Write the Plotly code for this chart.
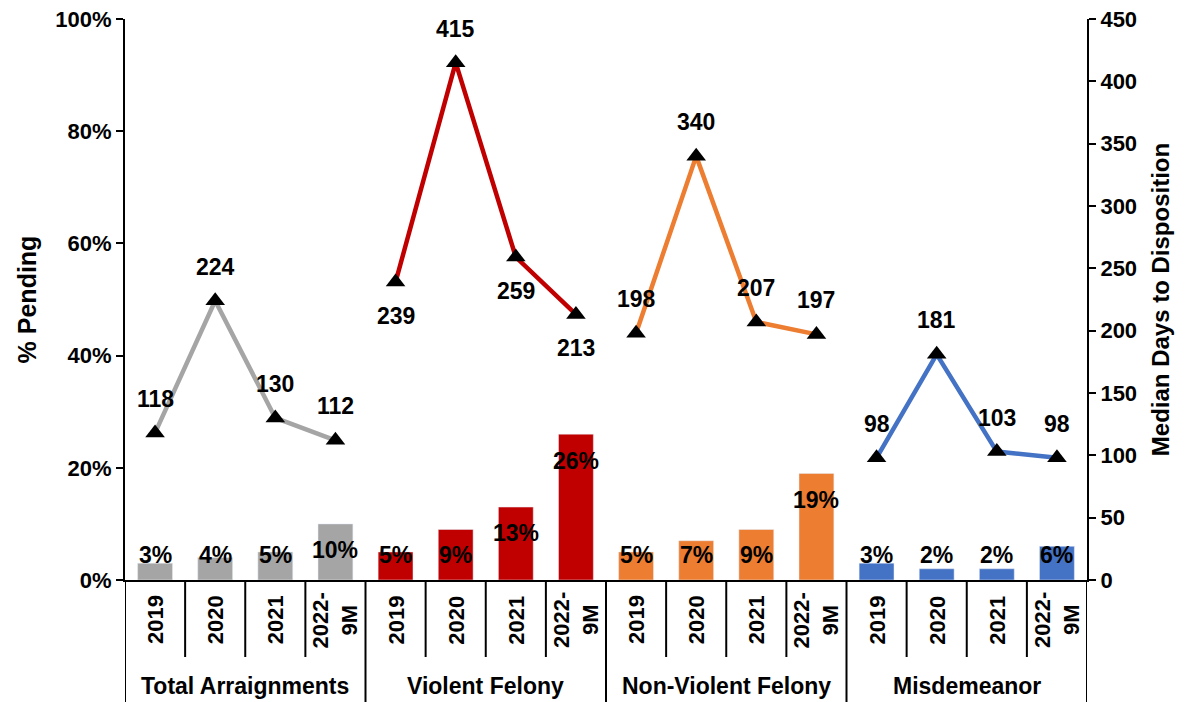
import plotly.graph_objects as go

groups = ["Total Arraignments", "Violent Felony", "Non-Violent Felony", "Misdemeanor"]
years = ["2019", "2020", "2021", "2022-<br>9M"]
colors = ["#A5A5A5", "#C00000", "#ED7D31", "#4472C4"]

pct_pending = [
    [3, 4, 5, 10],
    [5, 9, 13, 26],
    [5, 7, 9, 19],
    [3, 2, 2, 6],
]
median_days = [
    [118, 224, 130, 112],
    [239, 415, 259, 213],
    [198, 340, 207, 197],
    [98, 181, 103, 98],
]
# +1 label above marker, -1 below
label_side = [
    [1, 1, 1, 1],
    [-1, 1, -1, -1],
    [1, 1, 1, 1],
    [1, 1, 1, 1],
]

FONT = "Liberation Sans, Arial, sans-serif"
fig = go.Figure()
annotations = []
shapes = []

n_years = len(years)
for g, grp in enumerate(groups):
    xs = [g * n_years + i for i in range(n_years)]
    fig.add_trace(go.Bar(
        x=xs, y=pct_pending[g], marker_color=colors[g], width=0.58,
        yaxis="y", showlegend=False, hoverinfo="skip",
    ))
    fig.add_trace(go.Scatter(
        x=xs, y=median_days[g], mode="lines+markers", yaxis="y2",
        line=dict(color=colors[g], width=4.5),
        marker=dict(symbol="triangle-up", size=17, color="black"),
        showlegend=False, hoverinfo="skip",
    ))
    for i, x in enumerate(xs):
        v = pct_pending[g][i]
        yc = max(v - 4.7, 4.4)
        annotations.append(dict(
            x=x, y=yc, xref="x", yref="y", text=f"{v}%", showarrow=False,
            font=dict(family=FONT, size=23, color="black", weight="bold"),
            yanchor="middle",
        ))
        d = median_days[g][i]
        annotations.append(dict(
            x=x, y=d, xref="x", yref="y2", text=str(d), showarrow=False,
            font=dict(family=FONT, size=23, color="black", weight="bold"),
            yanchor="middle", yshift=34 * label_side[g][i],
        ))
        annotations.append(dict(
            x=x, y=0, xref="x", yref="paper", text=years[i], showarrow=False,
            textangle=-90, font=dict(family=FONT, size=22, color="black", weight="bold"),
            yanchor="middle", xanchor="center", yshift=-40,
        ))
    annotations.append(dict(
        x=g * n_years + (n_years - 1) / 2, y=0, xref="x", yref="paper", text=grp,
        showarrow=False, font=dict(family=FONT, size=23, color="black", weight="bold"),
        yanchor="middle", yshift=-106,
    ))

W, H = 1180, 694
ML, MR, MT, MB = 117, 101, 11, 122
n_cat = len(groups) * n_years
plot_h = H - MT - MB
for k in range(n_cat + 1):
    is_group = (k % n_years == 0)
    depth = 122 if is_group else 77
    shapes.append(dict(
        type="line", xref="x", yref="paper", x0=k - 0.5, x1=k - 0.5,
        y0=0, y1=-depth / plot_h, line=dict(color="black", width=2),
    ))

fig.update_layout(
    width=W, height=H,
    margin=dict(l=ML, r=MR, t=MT, b=MB, autoexpand=False),
    plot_bgcolor="white", paper_bgcolor="white",
    annotations=annotations, shapes=shapes,
    xaxis=dict(range=[-0.5, n_cat - 0.5], showticklabels=False, showgrid=False, automargin=False,
               zeroline=False, showline=True, linecolor="black", linewidth=2, ticks=""),
    yaxis=dict(range=[0, 100], tickvals=[0, 20, 40, 60, 80, 100],
               ticktext=["0%", "20%", "40%", "60%", "80%", "100%"], automargin=False,
               ticklabeloverflow="allow",
               showgrid=False, zeroline=False, showline=True, linecolor="black", linewidth=2,
               ticks="outside", ticklen=7, tickcolor="black", tickwidth=1.5,
               tickfont=dict(family=FONT, size=22, color="black", weight="bold"),
               title=dict(text="% Pending", standoff=12,
                          font=dict(family=FONT, size=25, color="black", weight="bold"))),
    yaxis2=dict(range=[0, 450], dtick=50, overlaying="y", side="right", automargin=False,
                ticklabeloverflow="allow",
                showgrid=False, zeroline=False, showline=True, linecolor="black", linewidth=2,
                ticks="outside", ticklen=7, tickcolor="black", tickwidth=1.5,
                tickfont=dict(family=FONT, size=22, color="black", weight="bold"),
                title=dict(text="Median Days to Disposition", standoff=16,
                           font=dict(family=FONT, size=24, color="black", weight="bold"))),
)

fig.write_html("out.html")
